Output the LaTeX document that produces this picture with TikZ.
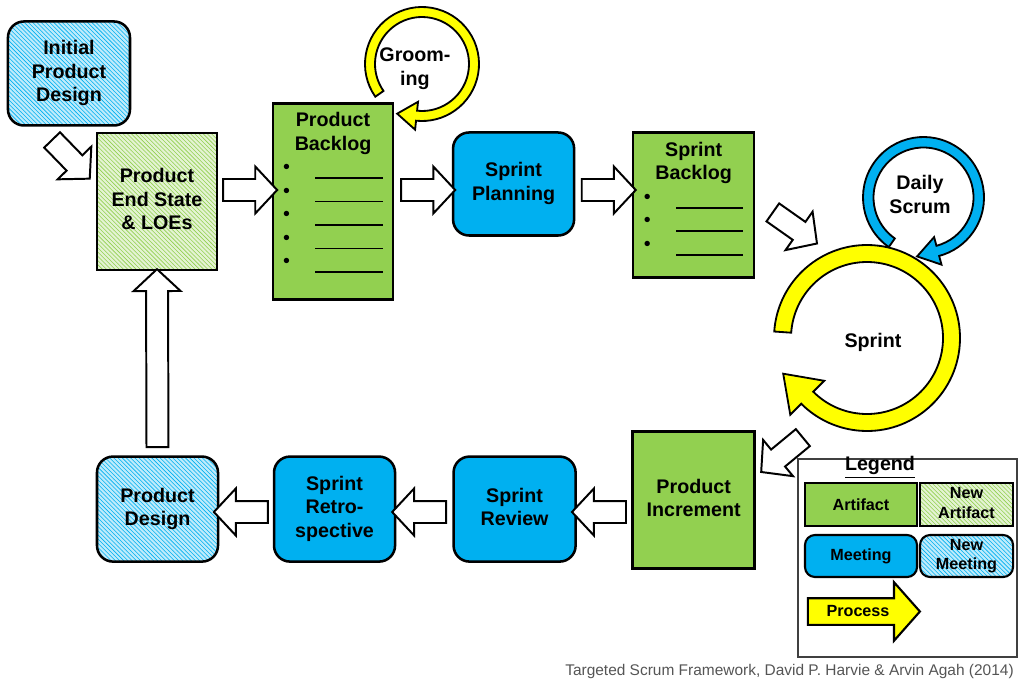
\documentclass[tikz,border=0pt]{standalone}
\usepackage{fontspec}
\setmainfont{Liberation Sans}
\usetikzlibrary{positioning,shapes.arrows,patterns,calc}

\definecolor{artgreen}{HTML}{92D050}
\definecolor{meetblue}{HTML}{00B0F0}
\definecolor{procyellow}{HTML}{FFFF00}
\definecolor{notegray}{HTML}{555555}

\newcommand{\boxfont}{\fontsize{14}{16.7}\selectfont\bfseries}
\newcommand{\legfont}{\fontsize{11.5}{14}\selectfont\bfseries}
\newcommand{\bul}{{\mdseries\textbullet}}
\newcommand{\lin}{\rule[-3.8pt]{48pt}{1.3pt}}

\begin{document}
\begin{tikzpicture} [
      x=0.025cm, y=-0.025cm,
      stagebox/.style={draw, line width=1.8pt, font=\boxfont, inner sep=0pt},
      artifact/.style={stagebox, fill=artgreen},
      newartifact/.style={stagebox, preaction={fill=artgreen!25}, pattern=north west lines, pattern color=artgreen},
      meeting/.style={stagebox, rounded corners=0.4cm, fill=meetblue},
      newmeeting/.style={stagebox, rounded corners=0.4cm, preaction={fill=meetblue!25}, pattern=north west lines, pattern color=meetblue},
      handoff/.style={single arrow, draw, line width=1.4pt, fill=white, minimum height=1.35cm, inner sep=0pt, inner ysep=0.25cm, single arrow head extend=0.3125cm, single arrow tip angle=94, sloped, allow upside down},
      cycleband/.style={draw, line width=1.3pt, line join=miter},
      loopnote/.style={font=\boxfont, inner sep=0pt},
      legitem/.style={draw, line width=1.5pt, font=\legfont, inner sep=0pt}
   ]
    \useasboundingbox (0,0) rectangle (1024,690);

    % top row
    \node[newartifact, minimum width=3cm, minimum height=3.425cm] (endstate) at (157,201.5) {
      \begin{tabular}{c}
        Product \\
        End State \\
        \& LOEs
      \end{tabular}
    };
    \node[newmeeting, minimum width=3.05cm, minimum height=2.6cm, above of=endstate, node distance=3.2cm, xshift=-2.2cm] (initial) {
      \begin{tabular}{c}
        Initial \\
        Product \\
        Design
      \end{tabular}
    };
    \node[artifact, minimum width=3cm, minimum height=4.9cm, right of=endstate, node distance=4.4cm] (pbacklog) {
      \begin{tabular}{@{}l@{\hspace{18pt}}l@{}}
        \multicolumn{2}{c}{Product} \\
        \multicolumn{2}{c}{Backlog} \\
        \bul & \lin \\
        \bul & \lin \\
        \bul & \lin \\
        \bul & \lin \\
        \bul & \lin \\[13pt]
      \end{tabular}
    };
    \node[meeting, minimum width=3.025cm, minimum height=2.575cm, right of=pbacklog, node distance=4.5125cm, yshift=0.4375cm] (planning) {
      \begin{tabular}{c}
        Sprint \\
        Planning
      \end{tabular}
    };
    \node[artifact, minimum width=3.025cm, minimum height=3.625cm, right of=planning, node distance=4.5cm, yshift=-0.525cm] (sbacklog) {
      \begin{tabular}{@{}l@{\hspace{18pt}}l@{}}
        \multicolumn{2}{c}{Sprint} \\
        \multicolumn{2}{c}{Backlog} \\
        \bul & \lin \\
        \bul & \lin \\
        \bul & \lin \\[9pt]
      \end{tabular}
    };

    % bottom row
    \node[artifact, minimum width=3.05cm, minimum height=3.425cm, below of=sbacklog, node distance=7.375cm] (increment) {
      \begin{tabular}{c}
        Product \\
        Increment
      \end{tabular}
    };
    \node[meeting, minimum width=3.05cm, minimum height=2.625cm, left of=increment, node distance=4.475cm, yshift=-0.225cm] (review) {
      \begin{tabular}{c}
        Sprint \\
        Review
      \end{tabular}
    };
    \node[meeting, minimum width=3.025cm, minimum height=2.625cm, left of=review, node distance=4.5cm] (retro) {
      \begin{tabular}{c}
        Sprint \\
        Retro- \\
        spective
      \end{tabular}
    };
    \node[newmeeting, minimum width=3.025cm, minimum height=2.625cm, left of=retro, node distance=4.425cm] (pdesign) {
      \begin{tabular}{c}
        Product \\
        Design
      \end{tabular}
    };

    % loops
    \node[loopnote] (grooming) at (415,69) {
      \begin{tabular}{c}
        Groom- \\
        ing
      \end{tabular}
    };
    \node[loopnote] (sprint) at (873,342) {Sprint};
    \node[loopnote] (daily) at (920,197) {
      \begin{tabular}{c}
        Daily \\
        Scrum
      \end{tabular}
    };

    \coordinate (gc) at ($(grooming)+(7,-5)$);
    \draw[cycleband, fill=procyellow] ($(gc)+(145:57)$) arc[start angle=145, end angle=456, radius=57]
      -- ($(gc)+(456:66)$) -- ($(gc)+(456:52)+(546:19.5)$) -- ($(gc)+(456:38)$)
      -- ($(gc)+(456:47)$) arc[start angle=456, end angle=145, radius=47] -- cycle;

    \coordinate (sc) at ($(sprint)+(-6,-4)$);
    \draw[cycleband, fill=procyellow] ($(sc)+(184:93)$) arc[start angle=184, end angle=495, radius=93]
      -- ($(sc)+(495:108.5)$) -- ($(sc)+(495:84.5)+(585:34)$) -- ($(sc)+(495:60.5)$)
      -- ($(sc)+(495:76)$) arc[start angle=495, end angle=184, radius=76] -- cycle;

    \coordinate (dc) at ($(daily)+(3.5,0.5)$);
    \draw[cycleband, fill=meetblue] ($(dc)+(125:60.5)$) arc[start angle=125, end angle=435, radius=60.5]
      -- ($(dc)+(435:69.5)$) -- ($(dc)+(435:55.25)+(525:21.5)$) -- ($(dc)+(435:41)$)
      -- ($(dc)+(435:50)$) arc[start angle=435, end angle=125, radius=50] -- cycle;

    % hand-offs
    \coordinate (toprow) at (0,190);
    \coordinate (botrow) at (0,512);
    \path ($(initial.south)+(-19,11)$) -- node[handoff]{} ($(endstate.west)+(-11,-28)$);
    \path (endstate.east |- toprow) -- node[handoff]{} (pbacklog.west |- toprow);
    \path (pbacklog.east |- toprow) -- node[handoff]{} (planning.west |- toprow);
    \path (planning.east |- toprow) -- node[handoff]{} (sbacklog.west |- toprow);
    \path ($(sbacklog.east)+(14,5)$) -- node[handoff]{} ($(sprint)+(-61,-102)$);
    \path ($(sprint)+(-67,93)$) -- node[handoff]{} ($(increment.east)+(10,-32)$);
    \path (increment.west |- botrow) -- node[handoff]{} (review.east |- botrow);
    \path (review.west |- botrow) -- node[handoff]{} (retro.east |- botrow);
    \path (retro.west |- botrow) -- node[handoff]{} (pdesign.east |- botrow);
    \path (pdesign.north) -- node[handoff, minimum height=4.45cm]{} (endstate.south);

    % legend
    \node[draw=black!75, line width=0.8pt, minimum width=5.475cm, minimum height=4.95cm] (legend) at (907.5,558) {};
    \node[font=\boxfont, inner sep=0pt] (legendtitle) at (880,467) {\underline{Legend}};
    \node[legitem, fill=artgreen, minimum width=2.8cm, minimum height=1.075cm] (legart) at (861,504.5) {Artifact};
    \node[legitem, preaction={fill=artgreen!25}, pattern=north west lines, pattern color=artgreen, minimum width=2.325cm, minimum height=1.075cm, right of=legart, node distance=2.6375cm] (legnewart) {
      \begin{tabular}{c}
        New \\
        Artifact
      \end{tabular}
    };
    \node[legitem, rounded corners=0.25cm, fill=meetblue, minimum width=2.8cm, minimum height=1.05cm, below of=legart, node distance=1.2875cm] (legmeet) {Meeting};
    \node[legitem, rounded corners=0.25cm, preaction={fill=meetblue!25}, pattern=north west lines, pattern color=meetblue, minimum width=2.325cm, minimum height=1.05cm, right of=legmeet, node distance=2.6375cm] (legnewmeet) {
      \begin{tabular}{c}
        New \\
        Meeting
      \end{tabular}
    };
    \node[single arrow, draw, line width=1.5pt, fill=procyellow, font=\legfont, inner sep=0pt, inner ysep=0.165cm, minimum height=2.8cm, single arrow head extend=0.4cm, single arrow tip angle=97] (legproc) at (858,611.5) {Process};

    \node[anchor=east, font={\fontsize{11}{13}\selectfont}, text=notegray, inner sep=0pt] (credit) at (1014,671) {Targeted Scrum Framework, David P. Harvie \& Arvin Agah (2014)};

  \end{tikzpicture}
\end{document}
